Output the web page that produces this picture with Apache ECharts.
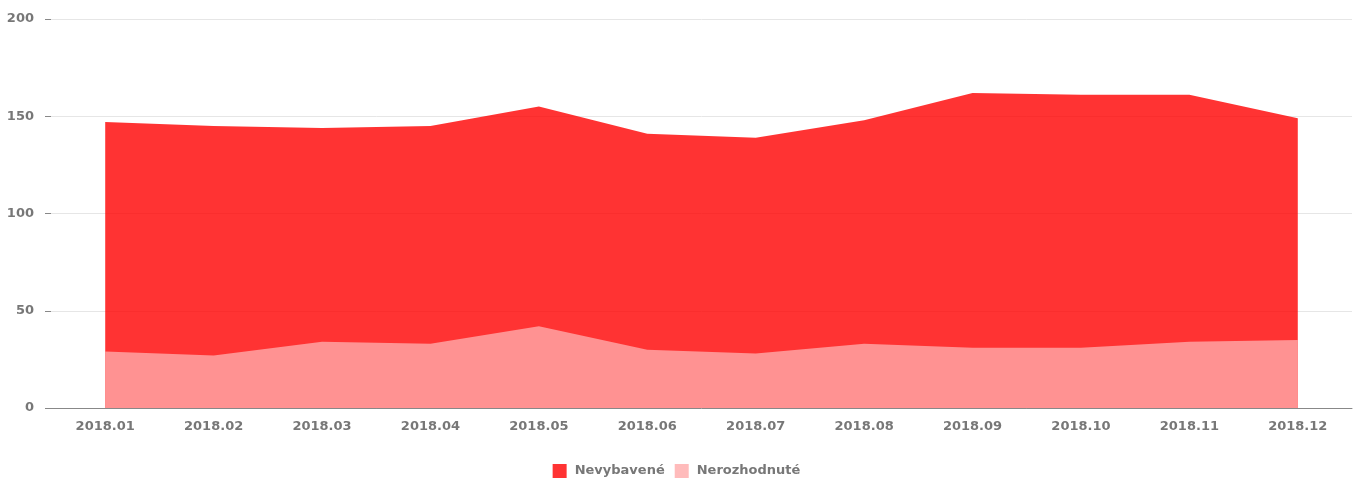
<!DOCTYPE html>
<html>
<head>
<meta charset="utf-8">
<script src="https://cdn.jsdelivr.net/npm/echarts@6/dist/echarts.min.js"></script>
<style>html,body{margin:0;padding:0;background:#fff}#c{width:1353px;height:481px}</style>
</head>
<body>
<div id="c"></div>
<script>
const categories = ['2018.01','2018.02','2018.03','2018.04','2018.05','2018.06','2018.07','2018.08','2018.09','2018.10','2018.11','2018.12'];
const nevybavene = [147,145,144,145,155,141,139,148,162,161,161,149];
const nerozhodnute = [29,27,34,33,42,30,28,33,31,31,34,35];
const seriesNames = ['Nevybavené','Nerozhodnuté'];
const yTicks = [0,50,100,150,200];

const font = 'DejaVu Sans, Verdana, sans-serif';
const chart = echarts.init(document.getElementById('c'), null, {renderer:'canvas'});
chart.setOption({
  animation:false,
  backgroundColor:'#fff',
  grid:{left:51,right:1,top:19,bottom:73,containLabel:false},
  legend:{
    data:seriesNames, top:459, left:'center', icon:'rect', itemWidth:14, itemHeight:14, itemGap:10,
    textStyle:{color:'#777',fontFamily:font,fontWeight:'bold',fontSize:13,padding:[0,0,0,3]}
  },
  xAxis:{
    type:'category', data:categories, boundaryGap:true,
    axisLine:{lineStyle:{color:'#888',width:1}},
    axisTick:{alignWithLabel:true,length:5,lineStyle:{color:'#888'}},
    axisLabel:{color:'#777',fontFamily:font,fontWeight:'bold',fontSize:13,margin:12}
  },
  yAxis:{
    type:'value', min:yTicks[0], max:yTicks[yTicks.length-1], interval:50,
    axisLine:{show:false},
    axisTick:{show:true,length:6,lineStyle:{color:'#888'}},
    axisLabel:{color:'#777',fontFamily:font,fontWeight:'bold',fontSize:13,margin:17},
    splitLine:{lineStyle:{color:'#e6e6e6'}}
  },
  series:[
    {name:seriesNames[0],type:'line',data:nevybavene,symbol:'none',
     itemStyle:{color:'rgba(255,0,0,0.8)'},lineStyle:{width:0},areaStyle:{color:'rgba(255,0,0,0.8)',opacity:1}},
    {name:seriesNames[1],type:'line',data:nerozhodnute,symbol:'none',
     itemStyle:{color:'rgba(255,170,170,0.8)'},lineStyle:{width:0},areaStyle:{color:'rgba(255,170,170,0.8)',opacity:1}}
  ]
});
</script>
</body>
</html>
